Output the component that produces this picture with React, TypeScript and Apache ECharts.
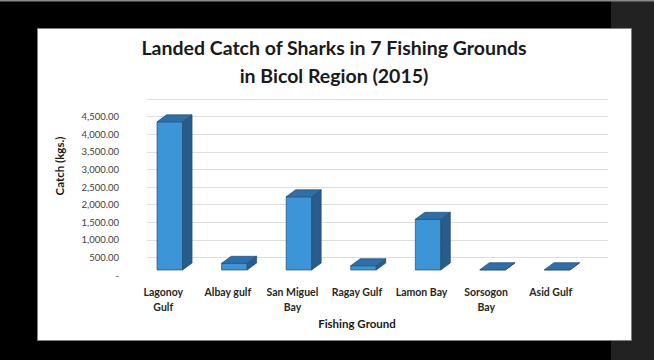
import React, { useEffect, useRef } from "react";
import * as echarts from "echarts";

const categories = [
  "Lagonoy\nGulf",
  "Albay gulf",
  "San Miguel\nBay",
  "Ragay Gulf",
  "Lamon Bay",
  "Sorsogon\nBay",
  "Asid Gulf",
];
const catchKgs = [4210, 190, 2080, 122, 1440, 4, 4];
const yTicks = [0, 500, 1000, 1500, 2000, 2500, 3000, 3500, 4000, 4500, 5000];
const titleLines = ["Landed Catch of Sharks in 7 Fishing Grounds", "in Bicol Region (2015)"];
const yAxisTitle = "Catch (kgs.)";
const xAxisTitle = "Fishing Ground";

const FONT = "Lato, 'Open Sans', sans-serif";

function fmt(v: number): string {
  if (v === 0) return "-";
  if (v === 5000) return "";
  return v.toLocaleString("en-US", { minimumFractionDigits: 2, maximumFractionDigits: 2 });
}

export default function App() {
  const ref = useRef<HTMLDivElement>(null);
  useEffect(() => {
    if (!ref.current) return;
    const chart = echarts.init(ref.current, null, { renderer: "svg" });
    const splitColors = yTicks.map((t, i) => (i === 0 ? "rgba(0,0,0,0)" : "#dedede"));
    const option: any = {
      animation: false,
      backgroundColor: "#000000",
      graphic: [
        { type: "rect", shape: { x: 611, y: 0, width: 43, height: 360 }, style: { fill: "#222222" }, z: 0 },
        { type: "rect", shape: { x: 0, y: 0, width: 654, height: 1.5 }, style: { fill: "#8a8a8a" }, z: 0 },
        {
          type: "rect",
          shape: { x: 37.5, y: 28.5, width: 594, height: 312 },
          style: { fill: "#ffffff", stroke: "#808080", lineWidth: 1 },
          z: 0,
        },
        {
          type: "text",
          x: 334,
          y: 47,
          style: { text: titleLines[0], font: `bold 19.5px ${FONT}`, fill: "#1a1a1a", textAlign: "center", textVerticalAlign: "middle" },
          z: 5,
        },
        {
          type: "text",
          x: 334,
          y: 75,
          style: { text: titleLines[1], font: `bold 19.5px ${FONT}`, fill: "#1a1a1a", textAlign: "center", textVerticalAlign: "middle" },
          z: 5,
        },
        {
          type: "text",
          x: 59,
          y: 166,
          rotation: Math.PI / 2,
          style: { text: yAxisTitle, font: `bold 11.5px ${FONT}`, fill: "#1a1a1a", textAlign: "center", textVerticalAlign: "middle" },
          z: 5,
        },
        {
          type: "text",
          x: 357,
          y: 323,
          style: { text: xAxisTitle, font: `bold 11.5px ${FONT}`, fill: "#1a1a1a", textAlign: "center", textVerticalAlign: "middle" },
          z: 5,
        },
      ],
      grid: [
        { left: 131, right: 71, top: 94, bottom: 90 },
        { left: 147, right: 46, top: 99, bottom: 85 },
      ],
      xAxis: [
        {
          type: "category",
          gridIndex: 0,
          data: categories,
          axisLine: { show: false },
          axisTick: { show: false },
          axisLabel: {
            interval: 0,
            margin: 14,
            fontFamily: FONT,
            fontWeight: "bold",
            fontSize: 10.5,
            lineHeight: 15,
            color: "#262626",
          },
        },
        { type: "value", gridIndex: 1, show: false, min: 0, max: 1 },
      ],
      yAxis: [
        { type: "value", gridIndex: 0, min: 0, max: 5000, show: false },
        {
          type: "value",
          gridIndex: 1,
          min: 0,
          max: 5000,
          interval: 500,
          axisLine: { show: false },
          axisTick: { show: false },
          splitLine: { show: true, lineStyle: { color: splitColors, width: 1 } },
          axisLabel: {
            margin: 28,
            fontFamily: FONT,
            fontSize: 9.5,
            color: "#404040",
            formatter: (v: number) => fmt(v),
          },
        },
      ],
      series: [
        {
          type: "custom",
          xAxisIndex: 0,
          yAxisIndex: 0,
          z: 10,
          data: catchKgs.map((v, i) => [i, v]),
          encode: { x: 0, y: 1 },
          renderItem: (params: any, api: any) => {
            const cat = api.value(0);
            const v = api.value(1);
            const base = api.coord([cat, 0]);
            const top = api.coord([cat, v]);
            const bw = api.size([1, 0])[0] * 0.395;
            const cx = base[0] + 6.5;
            const x0 = cx - bw / 2;
            const x1 = cx + bw / 2;
            const yb = base[1];
            const yt = Math.min(top[1], yb - 0.3);
            const dx = 9.5;
            const dy = -7;
            const stroke = "#1f4e79";
            return {
              type: "group",
              children: [
                {
                  type: "polygon",
                  shape: { points: [[x0, yb], [x1, yb], [x1, yt], [x0, yt]] },
                  style: { fill: "#3b95d6", stroke, lineWidth: 0.7 },
                },
                {
                  type: "polygon",
                  shape: { points: [[x1, yb], [x1 + dx, yb + dy], [x1 + dx, yt + dy], [x1, yt]] },
                  style: { fill: "#275d8c", stroke, lineWidth: 0.7 },
                },
                {
                  type: "polygon",
                  shape: { points: [[x0, yt], [x1, yt], [x1 + dx, yt + dy], [x0 + dx, yt + dy]] },
                  style: { fill: "#2f6fa8", stroke, lineWidth: 0.7 },
                },
              ],
            };
          },
        },
      ],
    };
    chart.setOption(option);
    return () => chart.dispose();
  }, []);
  return (
    <div
      ref={ref}
      style={{ position: "absolute", left: 0, top: 0, width: 654, height: 360 }}
    />
  );
}
